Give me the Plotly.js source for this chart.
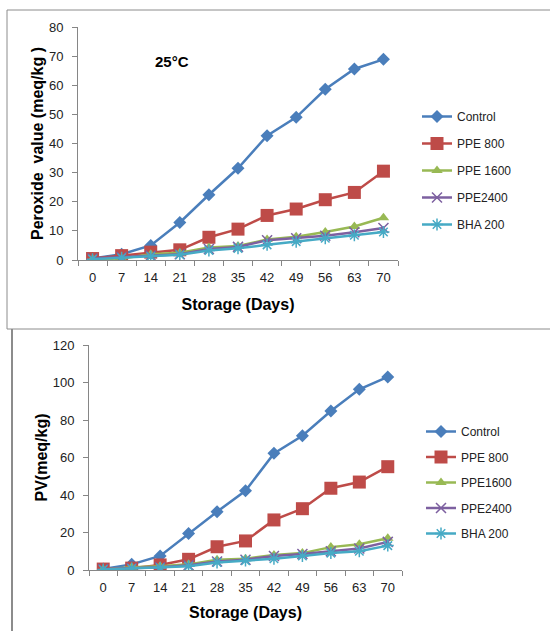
<!DOCTYPE html>
<html>
<head>
<meta charset="utf-8">
<script src="https://cdn.plot.ly/plotly-3.0.1.min.js"></script>
<style>html,body{margin:0;padding:0;background:#fff;}#chart{width:550px;height:631px;}</style>
</head>
<body>
<div id="chart"></div>
<script>
var days = ['0','7','14','21','28','35','42','49','56','63','70'];
var seriesNamesTop = ['Control','PPE 800','PPE 1600','PPE2400','BHA 200'];
var seriesNamesBottom = ['Control','PPE 800','PPE1600','PPE2400','BHA 200'];

// Top chart: 25°C, peroxide value (meq/kg)
var top_control = [0.5, 2.0, 5.0, 12.9, 22.4, 31.5, 42.7, 49.0, 58.6, 65.6, 68.9];
var top_ppe800  = [0.5, 1.5, 2.7, 3.5, 7.8, 10.6, 15.3, 17.5, 20.7, 23.2, 30.5];
var top_ppe1600 = [0.3, 0.5, 2.0, 2.5, 4.3, 4.8, 7.0, 8.0, 9.6, 11.5, 14.5];
var top_ppe2400 = [0.5, 1.0, 1.5, 2.0, 3.8, 4.5, 6.8, 7.5, 8.3, 9.5, 11.0];
var top_bha200  = [0.3, 0.8, 1.2, 1.8, 3.3, 4.0, 5.2, 6.3, 7.5, 8.5, 9.6];

// Bottom chart: PV (meq/kg)
var bot_control = [0.5, 3.0, 7.5, 19.4, 31.1, 42.2, 62.2, 71.6, 84.8, 96.4, 103.0];
var bot_ppe800  = [0.5, 1.0, 2.7, 5.7, 12.4, 15.5, 26.7, 32.7, 43.6, 46.9, 55.1];
var bot_ppe1600 = [0.3, 1.5, 2.0, 3.0, 5.5, 6.0, 8.0, 9.0, 12.2, 13.7, 16.9];
var bot_ppe2400 = [0.5, 1.0, 1.5, 2.5, 4.5, 5.5, 7.5, 8.5, 10.0, 11.5, 15.0];
var bot_bha200  = [0.3, 0.8, 1.2, 2.0, 4.0, 5.0, 6.0, 7.5, 9.0, 10.0, 13.0];

var colors = ['#4A7EBB','#BE4B48','#98B954','#7D60A0','#46AAC5'];
var symbols = ['diamond','square','triangle-up','x-thin-open','asterisk-open'];
var sizes = [10, 13, 10, 10, 10];

function mk(name, y, i, xa, ya, leg) {
  return {
    x: days, y: y, name: name, type: 'scatter', mode: 'lines+markers',
    xaxis: xa, yaxis: ya, legend: leg, legendgroup: leg + i,
    line: {color: colors[i], width: 2.5},
    marker: {symbol: symbols[i], size: sizes[i], color: colors[i],
             line: {color: colors[i], width: (i >= 3 ? 1.5 : 0)}}
  };
}
var topData = [top_control, top_ppe800, top_ppe1600, top_ppe2400, top_bha200];
var botData = [bot_control, bot_ppe800, bot_ppe1600, bot_ppe2400, bot_bha200];
var traces = [];
topData.forEach(function(d, i){ traces.push(mk(seriesNamesTop[i], d, i, 'x', 'y', 'legend')); });
botData.forEach(function(d, i){ traces.push(mk(seriesNamesBottom[i], d, i, 'x2', 'y2', 'legend2')); });

var W = 550, H = 631;
var tickFont = {family: 'Liberation Sans, Arial, sans-serif', size: 13, color: '#222'};
var titleFont = {family: 'Liberation Sans, Arial, sans-serif', size: 16, color: '#000', weight: 'bold'};
function xax(d0, d1, anchor, so) {
  return {domain: [d0/W, d1/W], anchor: anchor, type: 'category', range: [-0.5, 10.5],
    showline: true, linecolor: '#868686', linewidth: 1, ticks: 'outside', ticklen: 5,
    tickcolor: '#868686', tickson: 'boundaries', showgrid: false, zeroline: false,
    tickfont: tickFont, ticklabelstandoff: 5, fixedrange: true,
    title: {text: 'Storage (Days)', font: titleFont, standoff: so}};
}
function yax(p0, p1, max, dt, title, anchor) {
  return {domain: [1 - p1/H, 1 - p0/H], anchor: anchor, range: [0, max], dtick: dt,
    showline: true, linecolor: '#868686', linewidth: 1, ticks: 'outside', ticklen: 5,
    tickcolor: '#868686', showgrid: false, zeroline: false, tickfont: tickFont,
    ticklabelstandoff: 6,
    title: {text: title, font: titleFont, standoff: 1}};
}
var legFont = {family: 'Liberation Sans, Arial, sans-serif', size: 12, color: '#222'};
var layout = {
  width: W, height: H, margin: {l: 0, r: 0, t: 0, b: 0},
  paper_bgcolor: '#fff', plot_bgcolor: '#fff', showlegend: true,
  xaxis: xax(78, 398, 'y', 15),
  yaxis: yax(27, 260, 80, 10, 'Peroxide  value (meq/kg )', 'x'),
  xaxis2: xax(89, 402, 'y2', 13),
  yaxis2: yax(345, 570, 120, 20, 'PV(meq/kg)', 'x2'),
  legend: {x: 417/W, y: 1 - 102/H, xanchor: 'left', yanchor: 'top', font: legFont,
           traceorder: 'grouped', tracegroupgap: 8, bgcolor: 'rgba(0,0,0,0)'},
  legend2: {x: 421/W, y: 1 - 417/H, xanchor: 'left', yanchor: 'top', font: legFont,
           traceorder: 'grouped', tracegroupgap: 6.5, bgcolor: 'rgba(0,0,0,0)'},
  annotations: [{text: '25°C', xref: 'paper', yref: 'paper', x: 153/W, y: 1 - 61/H,
    xanchor: 'left', yanchor: 'middle', showarrow: false,
    font: {family: 'Liberation Sans, Arial, sans-serif', size: 15, color: '#000', weight: 'bold'}}],
  shapes: [
    {type: 'rect', xref: 'paper', yref: 'paper', x0: 7/W, x1: 1.1, y0: 1 - 329/H, y1: 1 - 10/H,
     line: {color: '#8c8c8c', width: 1}},
    {type: 'line', xref: 'paper', yref: 'paper', x0: 12/W, x1: 12/W, y0: 0, y1: 1 - 329/H,
     line: {color: '#8c8c8c', width: 2}}
  ]
};
Plotly.newPlot('chart', traces, layout, {displayModeBar: false, staticPlot: true});
</script>
</body>
</html>
